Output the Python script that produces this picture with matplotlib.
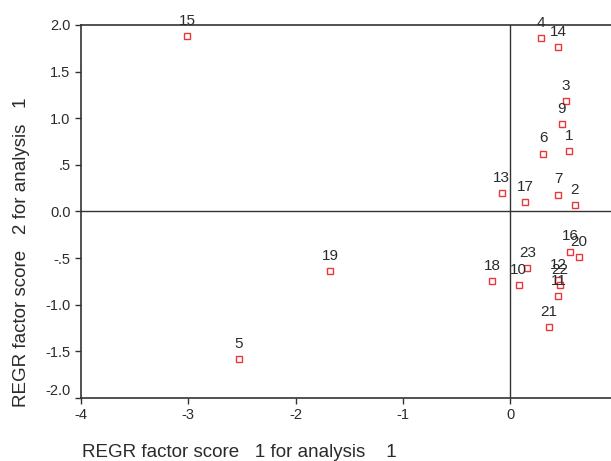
import matplotlib
matplotlib.use("Agg")
import matplotlib.pyplot as plt

plt.rcParams['font.family'] = ['Liberation Sans', 'DejaVu Sans']

# 数据：每个样本的因子得分
labels = ["1", "2", "3", "4", "5", "6", "7", "9", "10", "11", "12", "13",
          "14", "15", "16", "17", "18", "19", "20", "21", "22", "23"]
score1 = [0.55, 0.60, 0.52, 0.29, -2.53, 0.31, 0.45, 0.48, 0.08, 0.45, 0.45, -0.08,
          0.45, -3.01, 0.56, 0.14, -0.17, -1.68, 0.64, 0.36, 0.46, 0.16]
score2 = [0.65, 0.07, 1.18, 1.86, -1.58, 0.62, 0.18, 0.94, -0.79, -0.91, -0.74, 0.20,
          1.76, 1.88, -0.43, 0.10, -0.75, -0.64, -0.49, -1.24, -0.79, -0.61]

xticks = [-4, -3, -2, -1, 0]
yticks = [2.0, 1.5, 1.0, 0.5, 0.0, -0.5, -1.0, -1.5, -2.0]
ytick_labels = ["2.0", "1.5", "1.0", ".5", "0.0", "-.5", "-1.0", "-1.5", "-2.0"]

txt = "#2b2b2b"
fig = plt.figure(figsize=(6.11, 4.61), dpi=100)
ax = fig.add_axes([0.1326, 0.1367, 0.8674, 0.8091])

ax.plot(score1, score2, linestyle="none", marker="s", markersize=4.5,
        markerfacecolor="white", markeredgecolor="#e8383d", markeredgewidth=1.0)
for lab, x, y in zip(labels, score1, score2):
    ax.annotate(lab, (x, y), xytext=(0, 11), textcoords="offset points",
                ha="center", va="center", fontsize=11, color=txt)

ax.axhline(0, color="#333333", lw=1.0)
ax.axvline(0, color="#333333", lw=1.0)

ax.set_xlim(-4, 0.94)
ax.set_ylim(-2.0, 2.0)
ax.set_xticks(xticks)
ax.set_xticklabels([str(v) for v in xticks])
ax.set_yticks(yticks)
ax.set_yticklabels(ytick_labels)
ax.tick_params(direction="out", length=4, width=1, colors="#333333",
               labelsize=10.5, labelcolor=txt)
# 最下面的刻度标签稍微上移
ax.get_yticklabels()[-1].set_va("bottom")

ax.spines["right"].set_visible(False)
for s in ["left", "bottom", "top"]:
    ax.spines[s].set_color("#333333")
    ax.spines[s].set_linewidth(1.2)

fig.text(0.134, 0.009, "REGR factor score   1 for analysis    1", fontsize=13.5,
         color=txt, ha="left", va="baseline")
fig.text(0.036, 0.117, "REGR factor score   2 for analysis   1", fontsize=13.5,
         color=txt, rotation=90, ha="center", va="bottom")

fig.savefig("out.png", dpi=100)
